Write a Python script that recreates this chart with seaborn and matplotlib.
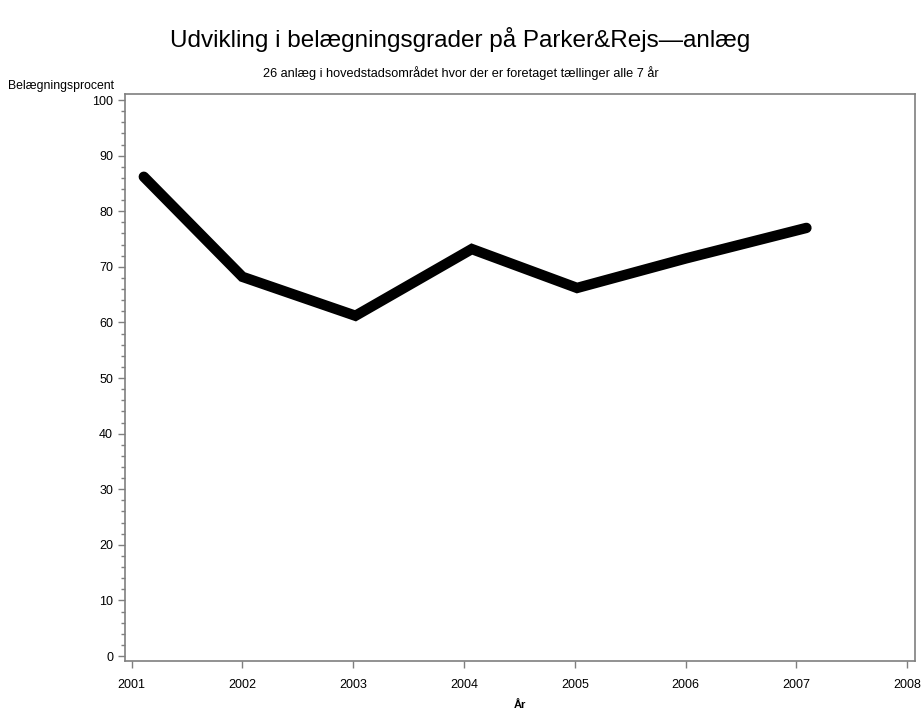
import matplotlib
matplotlib.use("Agg")
import pandas as pd
import matplotlib.pyplot as plt
import seaborn as sns
from matplotlib.ticker import MultipleLocator

# Data
years = [2001.11, 2002.0, 2003.02, 2004.07, 2005.02, 2006.0, 2007.09]
occupancy = [86.2, 68.2, 61.2, 73.2, 66.2, 71.5, 77.0]
xticks = [2001, 2002, 2003, 2004, 2005, 2006, 2007, 2008]
yticks = [0, 10, 20, 30, 40, 50, 60, 70, 80, 90, 100]

df = pd.DataFrame({"year": years, "pct": occupancy})

sns.set_style("ticks")
plt.rcParams["font.family"] = ["Liberation Sans", "DejaVu Sans"]
plt.rcParams["text.color"] = "black"
plt.rcParams["xtick.labelcolor"] = "black"
plt.rcParams["ytick.labelcolor"] = "black"

fig = plt.figure(figsize=(9.21, 7.13), dpi=100)
ax = fig.add_axes([0.1357, 0.0729, 0.8578, 0.7946])

sns.lineplot(data=df, x="year", y="pct", color="black", linewidth=7.5,
             solid_capstyle="round", solid_joinstyle="miter", sort=False, ax=ax)

ax.set_xlim(2000.94, 2008.07)
ax.set_ylim(-0.9, 101)
ax.set_xticks(xticks)
ax.set_xticklabels([str(t) for t in xticks], fontsize=9)
ax.set_yticks(yticks)
ax.set_yticklabels([str(t) for t in yticks], fontsize=9)
ax.yaxis.set_minor_locator(MultipleLocator(2))

grey = "#7f7f7f"
for s in ax.spines.values():
    s.set_color(grey)
    s.set_linewidth(1.2)
ax.tick_params(axis="both", which="major", length=5, color=grey, width=1,
               labelcolor="black")
ax.tick_params(axis="y", which="minor", length=3, color=grey, width=1)
ax.tick_params(axis="x", pad=8)

ax.set_xlabel("")
ax.set_ylabel("")
fig.text(0.5646, 0.011, "År", fontsize=8, fontweight="bold", ha="center", va="center")
fig.text(0.009, 0.879, "Belægningsprocent", fontsize=8.8, ha="left", va="center")

fig.text(0.5, 0.945, "Udvikling i belægningsgrader på Parker&Rejs\u2014anlæg",
         fontsize=17.5, ha="center", va="center")
fig.text(0.5, 0.897, "26 anlæg i hovedstadsområdet hvor der er foretaget tællinger alle 7 år",
         fontsize=9.2, ha="center", va="center")

fig.savefig("out.png", dpi=100)
